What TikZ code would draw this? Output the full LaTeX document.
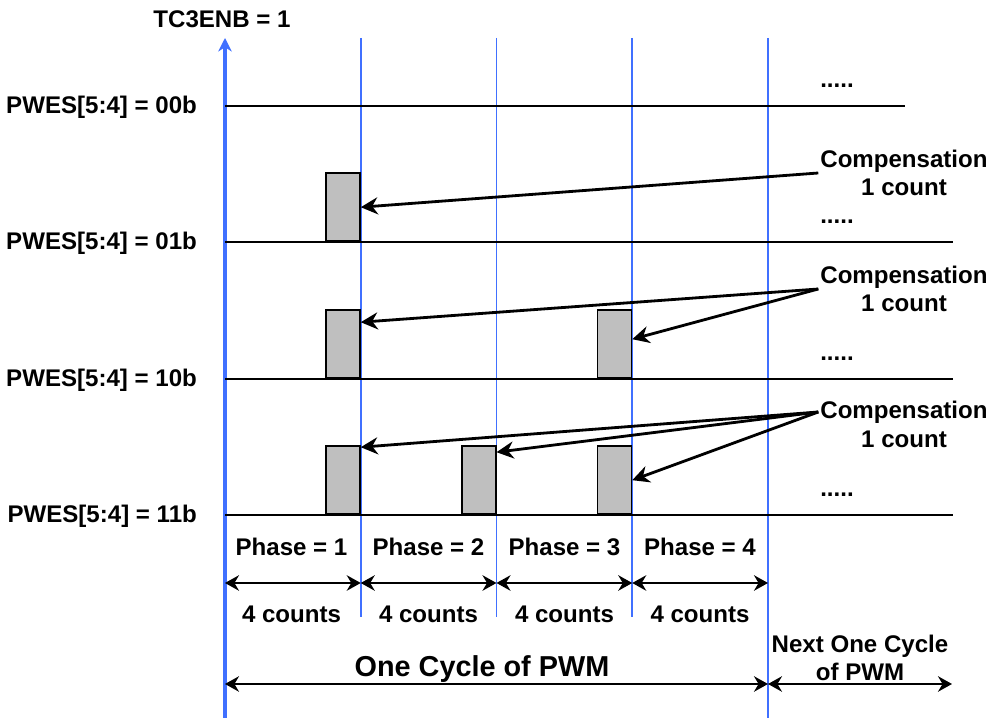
\documentclass[tikz,border=0pt]{standalone}
\usepackage{fontspec}
\setmainfont{Liberation Sans}
\usepackage{xcolor}
\usetikzlibrary{arrows.meta, positioning}
\definecolor{phaseblue}{RGB}{64,112,255}
\tikzset{
  lbl/.style={font=\fontsize{13.7}{16.2}\selectfont\bfseries, inner sep=1pt},
  biglbl/.style={font=\fontsize{16.4}{19}\selectfont\bfseries, inner sep=1pt},
  levelline/.style={draw=black, line width=1.1pt},
  phaseline/.style={draw=phaseblue, line width=0.9pt},
  pulse/.style={rectangle, draw, fill=black!25, line width=0.9pt, minimum width=0.68cm,
                minimum height=1.36cm, inner sep=0pt, anchor=south east},
  comparrow/.style={-{Stealth[length=3.4mm, width=3.4mm]}, line width=1.6pt},
  spanarrow/.style={{Stealth[length=2.8mm, width=3.1mm]}-{Stealth[length=2.8mm, width=3.1mm]}, line width=1.1pt},
}

\begin{document}
\begin{tikzpicture}
  \useasboundingbox (0,0) rectangle (19.88,-14.36);

  % Enable marker and phase boundaries
  \draw[phaseline, line width=1.8pt, -{Stealth[length=2.7mm, width=2.7mm]}] (4.5,-14.36) -- (4.5,-0.76);
  \draw[phaseline] (7.215,-0.76) -- (7.215,-12.34);
  \draw[phaseline] (9.93,-0.76) -- (9.93,-12.34);
  \draw[phaseline] (12.645,-0.76) -- (12.645,-12.34);
  \draw[phaseline] (15.36,-0.76) -- (15.36,-14.36);
  \node[lbl, anchor=base] (enb) at (4.44,-0.56) {TC3ENB = 1};

  % Levels
  \draw[levelline] (4.5,-2.12) -- (18.1,-2.12);
  \draw[levelline] (4.5,-4.84) -- (19.06,-4.84);
  \draw[levelline] (4.5,-7.58) -- (19.06,-7.58);
  \draw[levelline] (4.5,-10.3) -- (19.06,-10.3);
  \node[lbl, anchor=base east] (pwes00) at (3.98,-2.28) {PWES[5:4] = 00b};
  \node[lbl, anchor=base east] (pwes01) at (3.98,-5.0) {PWES[5:4] = 01b};
  \node[lbl, anchor=base east] (pwes10) at (3.98,-7.74) {PWES[5:4] = 10b};
  \node[lbl, anchor=base east] (pwes11) at (3.98,-10.46) {PWES[5:4] = 11b};
  \node[lbl, anchor=base] (dots00) at (16.74,-1.76) {.....};
  \node[lbl, anchor=base] (dots01) at (16.74,-4.48) {.....};
  \node[lbl, anchor=base] (dots10) at (16.74,-7.22) {.....};
  \node[lbl, anchor=base] (dots11) at (16.74,-9.94) {.....};

  % Compensation pulses
  \node[pulse] (p01) at (7.215,-4.84) {};
  \node[pulse] (p10a) at (7.215,-7.58) {};
  \node[pulse] (p10c) at (12.645,-7.58) {};
  \node[pulse] (p11a) at (7.215,-10.3) {};
  \node[pulse] (p11b) at (9.93,-10.3) {};
  \node[pulse] (p11c) at (12.645,-10.3) {};

  % Compensation notes
  \node[lbl, align=center] (comp1) at (18.08,-3.46) {Compensation\\1 count};
  \node[lbl, align=center] (comp2) at (18.08,-5.78) {Compensation\\1 count};
  \node[lbl, align=center] (comp3) at (18.08,-8.49) {Compensation\\1 count};
  \draw[comparrow] (comp1.west) -- (p01.east);
  \draw[comparrow] (comp2.west) -- ([yshift=0.44cm]p10a.east);
  \draw[comparrow] (comp2.west) -- ([yshift=0.1cm]p10c.east);
  \draw[comparrow] ([yshift=0.25cm]comp3.west) -- ([yshift=0.66cm]p11a.east);
  \draw[comparrow] ([yshift=0.25cm]comp3.west) -- ([yshift=0.56cm]p11b.east);
  \draw[comparrow] ([yshift=0.25cm]comp3.west) -- (p11c.east);

  % Phases
  \coordinate (ph0) at (4.5,-11.66);
  \coordinate (ph1) at (7.215,-11.66);
  \coordinate (ph2) at (9.93,-11.66);
  \coordinate (ph3) at (12.645,-11.66);
  \coordinate (ph4) at (15.36,-11.66);
  \draw[spanarrow] (ph0) -- (ph1);
  \draw[spanarrow] (ph1) -- (ph2);
  \draw[spanarrow] (ph2) -- (ph3);
  \draw[spanarrow] (ph3) -- (ph4);
  \node[lbl, anchor=base] (phase1) at (5.83,-11.12) {Phase = 1};
  \node[lbl, anchor=base] (phase2) at (8.57,-11.12) {Phase = 2};
  \node[lbl, anchor=base] (phase3) at (11.29,-11.12) {Phase = 3};
  \node[lbl, anchor=base] (phase4) at (14.0,-11.12) {Phase = 4};
  \node[lbl, anchor=base] (cnt1) at (5.83,-12.46) {4 counts};
  \node[lbl, anchor=base] (cnt2) at (8.57,-12.46) {4 counts};
  \node[lbl, anchor=base] (cnt3) at (11.29,-12.46) {4 counts};
  \node[lbl, anchor=base] (cnt4) at (14.0,-12.46) {4 counts};

  % Cycles
  \coordinate (cyc0) at (4.5,-13.68);
  \coordinate (cyc1) at (15.36,-13.68);
  \coordinate (cyc2) at (19.04,-13.68);
  \draw[spanarrow] (cyc0) -- (cyc1);
  \draw[spanarrow] (cyc1) -- (cyc2);
  \node[biglbl, anchor=base] (cycle) at (9.64,-13.54) {One Cycle of PWM};
  \node[lbl, align=center] (next) at (17.2,-13.16) {Next One Cycle\\of PWM};

\end{tikzpicture}
\end{document}
